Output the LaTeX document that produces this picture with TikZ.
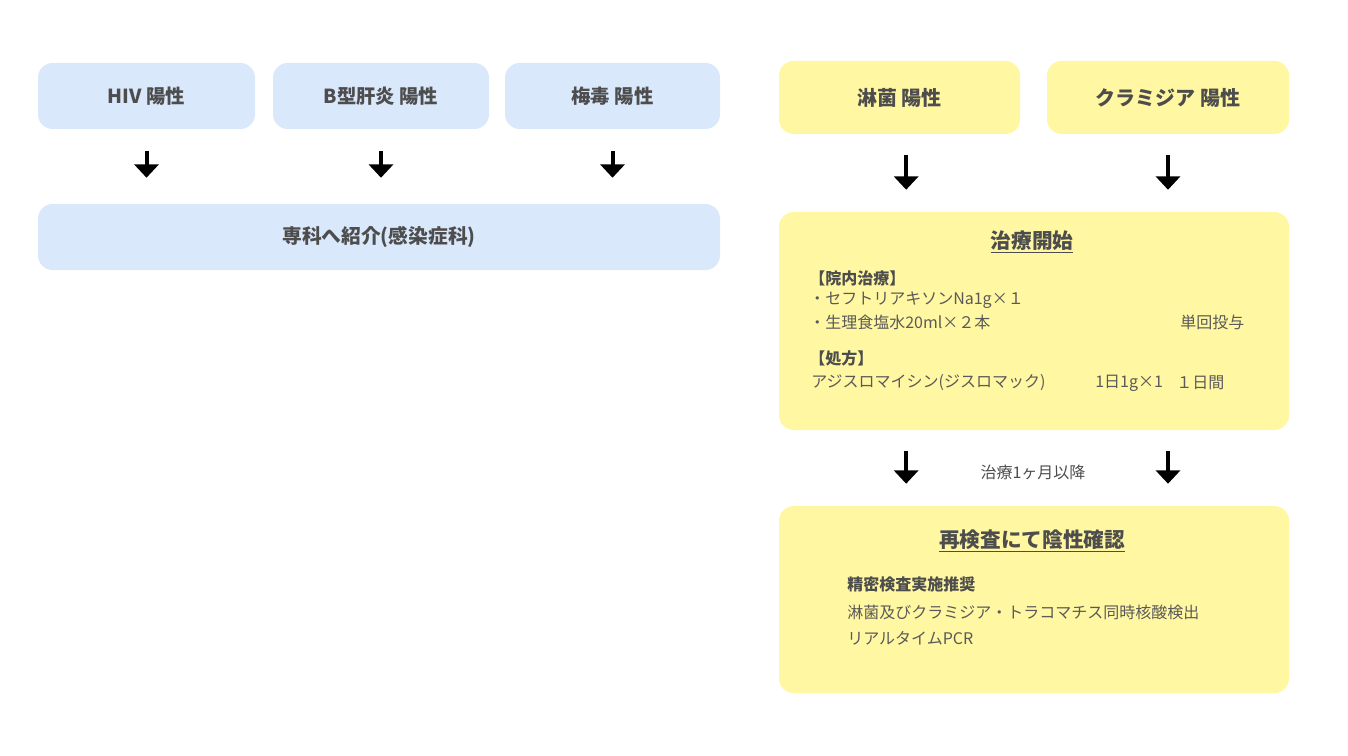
\documentclass[tikz,border=0pt]{standalone}
\usepackage{fontspec}
\setmainfont{Noto Sans CJK JP}
\usetikzlibrary{arrows.meta}
\definecolor{bluebox}{HTML}{DAE8FC}
\definecolor{yellowbox}{HTML}{FFF7A1}
\definecolor{labelgray}{HTML}{4D4D4D}
\definecolor{textgray}{HTML}{5A5A5A}
\tikzset{
  box/.style={rounded corners=11pt,draw=none,font=\fontsize{14.5}{17}\selectfont\bfseries,text=labelgray},
  bluebx/.style={box,fill=bluebox,minimum height=49.5pt},
  yellowbx/.style={box,fill=yellowbox,font=\fontsize{15}{18}\selectfont\bfseries},
  title/.style={font=\fontsize{15.5}{18}\selectfont\bfseries,text=labelgray},
  head/.style={anchor=west,inner sep=0pt,font=\fontsize{12}{14}\selectfont\bfseries,text=labelgray},
  body/.style={anchor=west,inner sep=0pt,font=\fontsize{12}{14}\selectfont,text=textgray},
  arr/.style={line width=3pt,-{Triangle[width=18pt,length=10pt]},shorten <=15.5pt,shorten >=16.5pt},
  arrl/.style={arr,shorten <=16pt,shorten >=19.5pt}
}
\newcommand{\linetext}[4]{\node[#1] (#2) at (#3) {#4};}
\begin{document}
\begin{tikzpicture}[x=0.75pt,y=-0.75pt]
  \useasboundingbox (0,0) rectangle (1348,756);
  % left column
  \node[bluebx,minimum width=162.75pt] (hiv) at (146.5,96) {HIV 陽性};
  \node[bluebx,minimum width=162pt] (hbv) at (381,96) {B型肝炎 陽性};
  \node[bluebx,minimum width=161.25pt] (syph) at (612.5,96) {梅毒 陽性};
  \node[bluebx,minimum width=511.5pt,font=\fontsize{14.8}{17}\selectfont\bfseries] (senka) at (379,237) {専科へ紹介(感染症科)};
  \foreach \n in {hiv,hbv,syph}
    \draw[arrl] (\n.south) -- (\n.south |- senka.north);
  % right column
  \node[yellowbx,minimum width=180.75pt,minimum height=54.75pt] (rin) at (899.5,97.5) {淋菌 陽性};
  \node[yellowbx,minimum width=181.5pt,minimum height=54.75pt] (chla) at (1168,97.5) {クラミジア 陽性};
  \node[yellowbx,minimum width=382.5pt,minimum height=163.5pt] (chiryo) at (1034,321) {};
  \node[yellowbx,minimum width=382.5pt,minimum height=140.25pt] (saiken) at (1034,599.5) {};
  \draw[arr] ([xshift=5pt]rin.south) -- ([xshift=5pt]rin.south |- chiryo.north);
  \draw[arr] (chla.south) -- (chla.south |- chiryo.north);
  \draw[arr] ([xshift=5pt]rin.south |- chiryo.south) -- ([xshift=5pt]rin.south |- saiken.north);
  \draw[arr] (chla.south |- chiryo.south) -- (chla.south |- saiken.north);
  \node[font=\fontsize{12}{14}\selectfont,text=labelgray] (ikko) at (1033,472) {治療1ヶ月以降};
  % treatment
  \node[title] (t1) at (1032,242) {\underline{治療開始}};
  \linetext{head}{innai}{809,278}{【院内治療】}
  \linetext{body}{ceft}{809,300}{・セフトリアキソンNa1g×１}
  \linetext{body}{salt}{809,322}{・生理食塩水20ml×２本}
  \linetext{body}{tankai}{1180,322}{単回投与}
  \linetext{head}{shoho}{809,358}{【処方】}
  \linetext{body}{azi}{811,383}{アジスロマイシン(ジスロマック)}
  \linetext{body}{dose}{1095,383}{1日1g×1}
  \linetext{body}{days}{1176,383}{１日間}
  % retest
  \node[title] (t2) at (1032,541) {\underline{再検査にて陰性確認}};
  \linetext{head}{seimitsu}{847,584}{精密検査実施推奨}
  \linetext{body}{kakusan}{847,612}{淋菌及びクラミジア・トラコマチス同時核酸検出}
  \linetext{body}{pcr}{847,638}{リアルタイムPCR}
\end{tikzpicture}
\end{document}
